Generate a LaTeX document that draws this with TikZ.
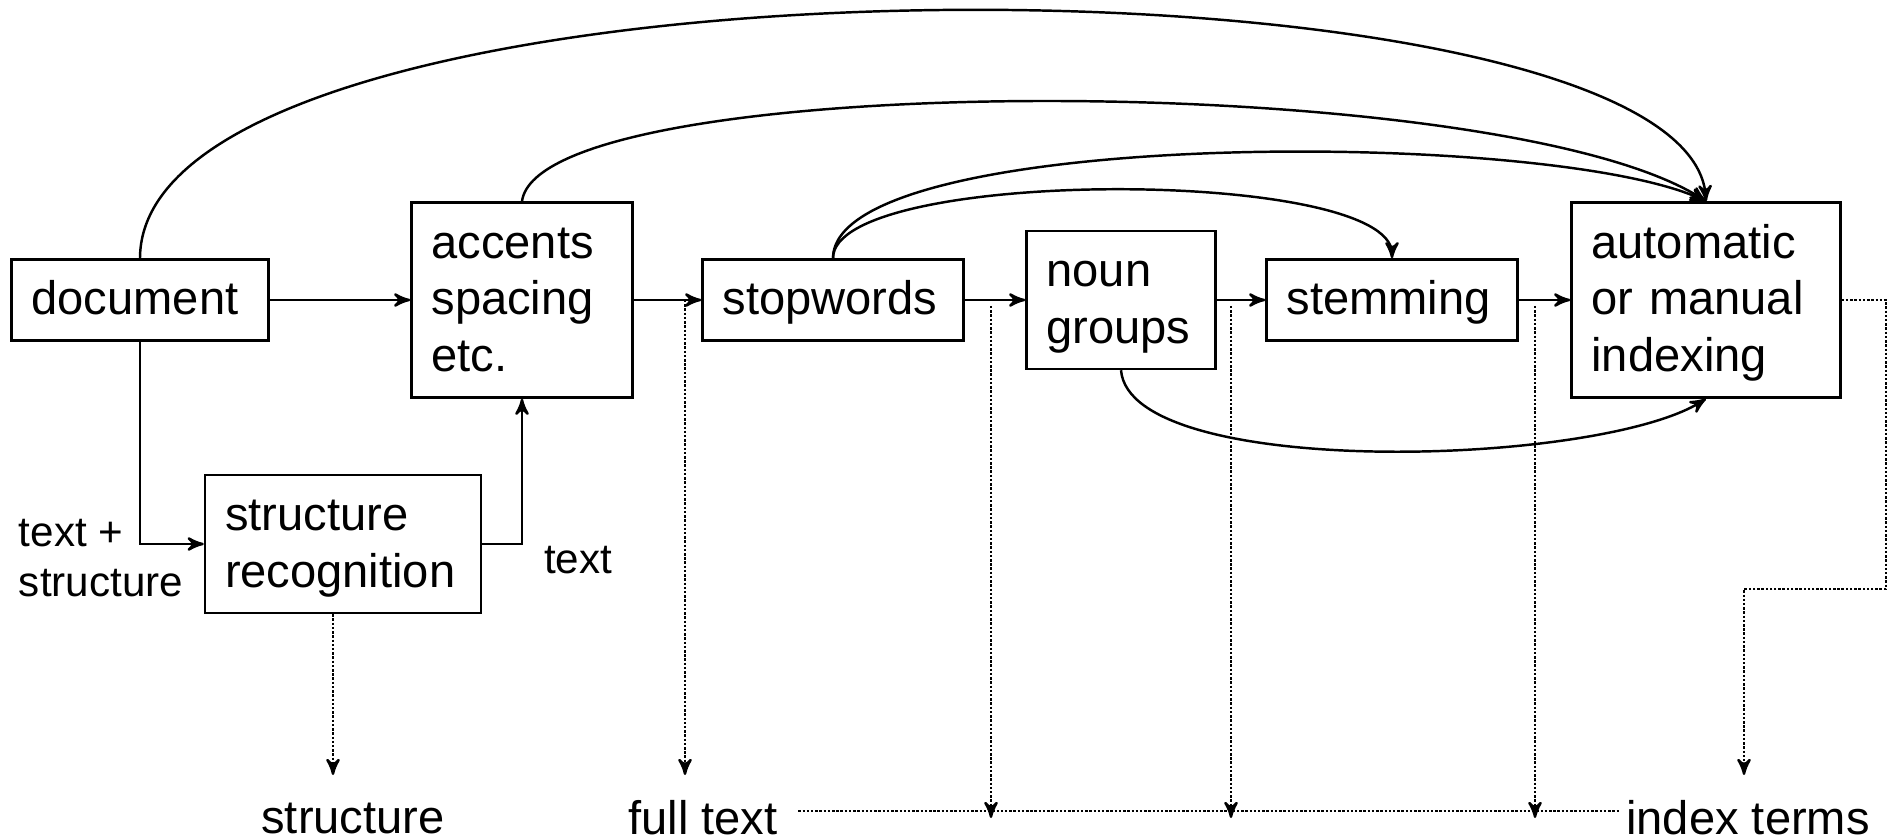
\documentclass[tikz,border=0pt]{standalone}
\usepackage{fontspec}
\setmainfont{Liberation Sans}
\usetikzlibrary{arrows}

\begin{document}
\begin{tikzpicture}[>=stealth',x=0.1mm,y=-0.1mm,
  box/.style={draw,line width=0.7pt,align=left,inner xsep=2mm,inner ysep=0pt,font=\fontsize{13.4}{16.1}\selectfont,
    execute at begin node={\rule{0pt}{15.6pt}},execute at end node={\rule[-7.1pt]{0pt}{0pt}}},
  lbl/.style={align=left,inner sep=0pt,font=\fontsize{12}{14.1}\selectfont},
  res/.style={inner sep=0pt,font=\fontsize{13.4}{16.1}\selectfont},
  flow/.style={line width=0.7pt},
  tap/.style={line width=0.7pt,dash pattern=on 0.7pt off 0.5pt}]
\useasboundingbox (0,0) rectangle (1890,840);
\node[box,text width=21.7mm,minimum height=8.1mm] (doc) at (140,300) {document};
\node[box,text width=18.1mm,minimum height=19.5mm] (acc) at (522,300) {accents\\spacing\\etc.};
\node[box,text width=23.6mm,minimum height=13.8mm] (sr) at (343,544) {structure\\recognition};
\node[box,text width=22.1mm,minimum height=8.1mm] (stop) at (833,300) {stopwords};
\node[box,text width=14.9mm,minimum height=13.8mm] (noun) at (1121,300) {noun\\groups};
\node[box,text width=21.1mm,minimum height=8.1mm] (stem) at (1392,300) {stemming};
\node[box,text width=22.9mm,minimum height=19.5mm] (idx) at (1706,300) {automatic\\or manual\\indexing};

\node[lbl] (ts) at (101,558) {text +\\structure};
\node[lbl] (tx) at (578,560) {text};
\node[res] (st) at (353,818) {structure};
\node[res] (ft) at (703,818) {full text};
\node[res] (it) at (1748,818) {index terms};

% main chain
\path[->,flow] (doc) edge (acc)
  (acc) edge (stop)
  (stop) edge (noun)
  (noun) edge (stem)
  (stem) edge (idx);
\draw[->,flow] (doc) |- (sr);
\draw[->,flow] (sr) -| (acc);

% shortcuts
\draw[->,flow] (doc.north) .. controls (141,-64) and (1690,-60) .. (idx.north);
\draw[->,flow] (acc.north) .. controls (540,68) and (1500,68) .. (idx.north);
\draw[->,flow] (stop.north) .. controls (833,128) and (1550,128) .. (idx.north);
\draw[->,flow] (stop.north) .. controls (833,167) and (1392,167) .. (stem.north);
\draw[->,flow] (noun.south) .. controls (1130,480) and (1600,467) .. (idx.south);

% outputs
\coordinate (s1) at (333,775);
\coordinate (t1) at (685,300);
\coordinate (c1) at (1886,589);
\coordinate (i1) at (1744,775);
\draw[->,tap] (sr.south -| s1) -- (s1);
\draw[->,tap] (t1) -- (t1 |- s1);
\draw[tap,shorten <=2mm,shorten >=0.6mm] ([yshift=0.7mm]ft.east) -- ([yshift=0.7mm]it.west);
\foreach \x/\n in {991/t2,1231/t3,1535/t4} {
  \coordinate (\n) at (\x,306);
  \draw[->,tap] (\n) -- (\n |- ft);
}
\draw[->,tap] (idx) -| (c1) -| (i1);
\end{tikzpicture}
\end{document}
